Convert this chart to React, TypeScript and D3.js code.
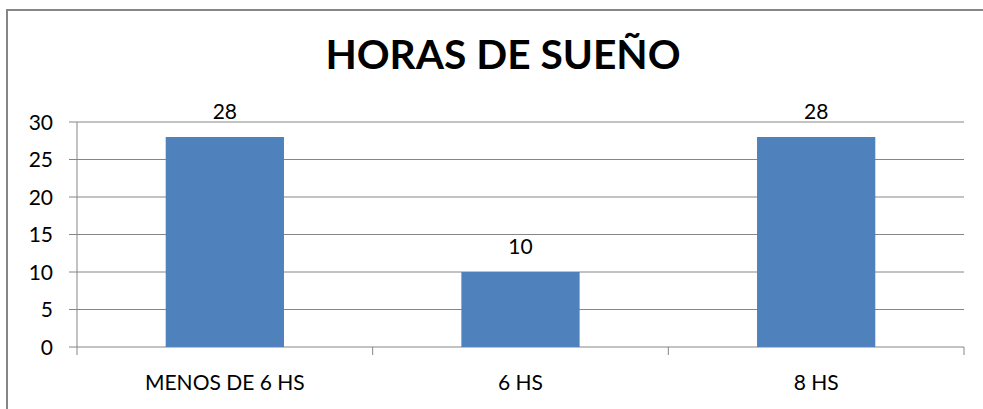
import React from "react";
import * as d3 from "d3";

const categories = ["MENOS DE 6 HS", "6 HS", "8 HS"];
const values = [28, 10, 28];
const yTicks = [0, 5, 10, 15, 20, 25, 30];
const title = "HORAS DE SUEÑO";

export default function App() {
  const W = 983, H = 409;
  const left = 77, right = 964, top = 122, bottom = 347;
  const x = d3.scaleBand<string>().domain(categories).range([left, right]).paddingInner(0.6).paddingOuter(0.3);
  const y = d3.scaleLinear().domain([0, 30]).range([bottom, top]);
  const font = "Lato, 'Open Sans', sans-serif";
  const bounds = categories.map((_, i) => left + i * (right - left) / categories.length);
  bounds.push(right);
  return (
    <svg width={W} height={H} style={{ position: "absolute", left: 0, top: 0 }}>
      <rect x={0} y={0} width={W} height={H} fill="#fff" />
      <path d={`M7,${H + 5} V10 H${W + 5}`} fill="none" stroke="#868686" strokeWidth={2} />
      <text x={503} y={69} textAnchor="middle" fontFamily={font} fontWeight={700} fontSize={40.7} fill="#000">{title}</text>
      {yTicks.map(t => (
        <g key={t}>
          <line x1={69} x2={right} y1={y(t)} y2={y(t)} stroke="#868686" strokeWidth={1} />
          <text x={53} y={y(t)} dy="0.36em" textAnchor="end" fontFamily={font} fontSize={21} fill="#000">{t}</text>
        </g>
      ))}
      <line x1={left} x2={left} y1={top} y2={bottom} stroke="#868686" />
      {bounds.map((b, i) => (
        <line key={i} x1={b} x2={b} y1={bottom} y2={bottom + 8} stroke="#868686" />
      ))}
      {categories.map((c, i) => (
        <g key={c}>
          <rect x={x(c)} y={y(values[i])} width={x.bandwidth()} height={bottom - y(values[i])} fill="#4F81BD" />
          <text x={(x(c) as number) + x.bandwidth() / 2} y={y(values[i]) - 18} textAnchor="middle" fontFamily={font} fontSize={21} fill="#000">{values[i]}</text>
          <text x={(x(c) as number) + x.bandwidth() / 2} y={382} dy="0.36em" textAnchor="middle" fontFamily={font} fontSize={21} fill="#000">{c}</text>
        </g>
      ))}
    </svg>
  );
}
